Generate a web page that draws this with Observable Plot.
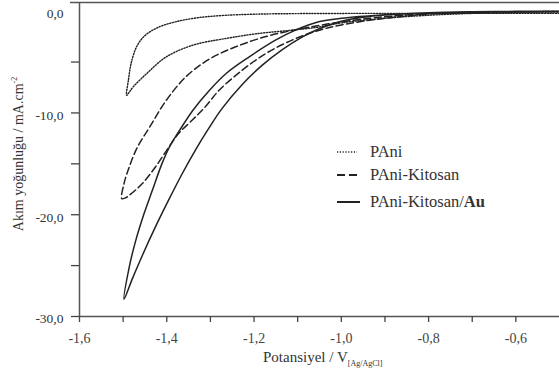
<!DOCTYPE html>
<html><head><meta charset="utf-8">
<script src="https://cdn.jsdelivr.net/npm/d3@7"></script>
<script src="https://cdn.jsdelivr.net/npm/@observablehq/plot@0.6"></script>
<style>
body{margin:0;background:#fff;}
#wrap{position:relative;width:559px;height:374px;font-family:"Liberation Serif","DejaVu Serif",serif;color:#333;}
#wrap svg.plot{position:absolute;left:0;top:0;}
.xt{position:absolute;left:263px;top:350px;font-size:15px;white-space:nowrap;line-height:1;}
.xt sub{font-size:8px;vertical-align:-4px;}
.yt{position:absolute;left:-100px;top:145px;width:240px;text-align:center;font-size:14px;white-space:nowrap;transform:rotate(-90deg);transform-origin:120px 9px;line-height:1;}
.yt sup{font-size:8px;vertical-align:6px;}
.leg{position:absolute;left:336px;font-size:16.5px;white-space:nowrap;line-height:1;display:flex;align-items:center;}
.leg svg{margin-right:10px;}
</style></head><body><div id="wrap"></div>
<script>
const xDomain = [-1.6, -0.5];
const yDomain = [-30, 0.85];
const xTicks = [-1.6, -1.5, -1.4, -1.3, -1.2, -1.1, -1.0, -0.9, -0.8, -0.7, -0.6];
const yTicks = [-30, -25, -20, -15, -10, -5];
const yLabels = [-30, -20, -10, 0];

// PAni (dotted) loop: upper branch right->tip, then lower branch tip->right
const paniX = [-0.5, -0.7, -0.9, -1.10, -1.20, -1.27, -1.33, -1.38, -1.42, -1.45, -1.468, -1.481, -1.488, -1.492,
  -1.485, -1.477, -1.446, -1.401, -1.340, -1.264, -1.189, -1.113, -1.05, -1.0, -0.9, -0.8, -0.7, -0.6, -0.5];
const paniY = [-0.22, -0.22, -0.22, -0.24, -0.30, -0.42, -0.65, -1.05, -1.6, -2.4, -3.4, -5.0, -6.8, -8.26,
  -7.9, -7.44, -6.13, -4.49, -3.34, -2.68, -2.19, -1.87, -1.55, -1.15, -0.7, -0.4, -0.22, -0.12, -0.08];

// PAni-Kitosan (dashed)
const kitX = [-0.5, -0.6, -0.7, -0.8, -0.9, -1.0, -1.05, -1.113, -1.173, -1.242, -1.302, -1.355, -1.401, -1.439, -1.467, -1.486, -1.498, -1.503,
  -1.495, -1.486, -1.456, -1.426, -1.395, -1.373, -1.342, -1.312, -1.280, -1.227, -1.173, -1.113, -1.06, -1.0, -0.9, -0.8, -0.7, -0.6, -0.5];
const kitY = [-0.04, -0.06, -0.12, -0.25, -0.55, -1.05, -1.4, -1.9, -2.5, -3.5, -4.7, -6.4, -8.75, -11.38, -13.34, -15.31, -16.94, -18.42,
  -18.35, -18.09, -16.94, -15.31, -13.34, -12.03, -10.72, -9.41, -7.77, -5.80, -4.16, -2.85, -2.0, -1.35, -0.7, -0.3, -0.14, -0.07, -0.04];

// PAni-Kitosan/Au (solid)
const auX = [-0.5, -0.6, -0.7, -0.8, -0.9, -1.0, -1.052, -1.105, -1.151, -1.211, -1.264, -1.302, -1.340, -1.373, -1.392, -1.411, -1.433, -1.452, -1.471, -1.486, -1.498,
  -1.479, -1.456, -1.426, -1.395, -1.365, -1.335, -1.305, -1.274, -1.227, -1.181, -1.136, -1.090, -1.052, -1.0, -0.95, -0.9, -0.8, -0.7, -0.6, -0.5];
const auY = [0.0, -0.02, -0.06, -0.15, -0.35, -0.7, -1.05, -1.87, -2.85, -4.49, -6.13, -7.77, -9.73, -11.87, -13.18, -14.98, -17.60, -19.89, -22.52, -25.14, -28.3,
  -26.3, -24.0, -21.2, -18.5, -16.0, -13.7, -11.6, -9.6, -7.2, -5.3, -3.8, -2.55, -1.75, -1.0, -0.6, -0.38, -0.17, -0.08, -0.03, 0.0];

const pts = (xs, ys) => xs.map((x, i) => ({x, y: ys[i]}));
const fmt = d => (d === 0 ? "0.0" : d.toFixed(1)).replace(".", ",");
const ink = "#222";
const serif = "'Liberation Serif', 'DejaVu Serif', serif";

const chart = Plot.plot({
  width: 559, height: 374,
  marginLeft: 79, marginRight: 0, marginTop: 2, marginBottom: 58,
  style: {fontFamily: serif, fontSize: "14px", background: "transparent"},
  x: {domain: xDomain},
  y: {domain: yDomain},
  marks: [
    Plot.line(pts(paniX, paniY), {x: "x", y: "y", stroke: ink, strokeWidth: 1.4, strokeDasharray: "1.2,1.6", curve: "catmull-rom"}),
    Plot.line(pts(kitX, kitY), {x: "x", y: "y", stroke: ink, strokeWidth: 1.5, strokeDasharray: "7,3.5", curve: "catmull-rom"}),
    Plot.line(pts(auX, auY), {x: "x", y: "y", stroke: ink, strokeWidth: 1.5, curve: "catmull-rom"}),
    Plot.ruleX([xDomain[0]], {stroke: "#555", strokeWidth: 1.5}),
    Plot.ruleY([yDomain[0]], {stroke: "#555", strokeWidth: 1.5}),
    Plot.ruleY([yDomain[1]], {stroke: "#555", strokeWidth: 1.5, insetLeft: -9}),
    Plot.axisX({ticks: xTicks, tickSize: 6, tickPadding: 11, label: null, color: "#444", strokeWidth: 1.3, fontSize: 14, fontFamily: serif,
      tickFormat: d => Math.round(d * 10) % 2 === 0 ? fmt(d) : ""}),
    Plot.axisY({ticks: yTicks, tickSize: 8, label: null, text: null, color: "#444", strokeWidth: 1.3}),
    Plot.axisY({ticks: yLabels, tickSize: 0, tickPadding: 16, label: null, color: "#333", fontSize: 13.5, fontFamily: serif, dy: 2.5, tickFormat: fmt})
  ]
});
chart.classList.add("plot");
const wrap = document.getElementById("wrap");
wrap.appendChild(chart);

const legendItems = [
  {label: "PAni", dash: "1.2,1.6", top: 144},
  {label: "PAni-Kitosan", dash: "8,4", top: 167},
  {label: "PAni-Kitosan/<b>Au</b>", dash: null, top: 194}
];
for (const it of legendItems) {
  const d = document.createElement("div");
  d.className = "leg";
  d.style.top = it.top + "px";
  d.innerHTML = `<svg width="24" height="10"><line x1="1" y1="5" x2="${it.dash === "1.2,1.6" ? 21 : 24}" y2="5" stroke="${ink}" stroke-width="${it.dash === "1.2,1.6" ? 1.4 : 2}" ${it.dash ? `stroke-dasharray="${it.dash}"` : ""}/></svg><span>${it.label}</span>`;
  wrap.appendChild(d);
}
const xt = document.createElement("div");
xt.className = "xt";
xt.innerHTML = "Potansiyel / V<sub>[Ag/AgCl]</sub>";
wrap.appendChild(xt);
const yt = document.createElement("div");
yt.className = "yt";
yt.innerHTML = "Akım yoğunluğu / mA.cm<sup>-2</sup>";
wrap.appendChild(yt);
</script>
</body></html>
